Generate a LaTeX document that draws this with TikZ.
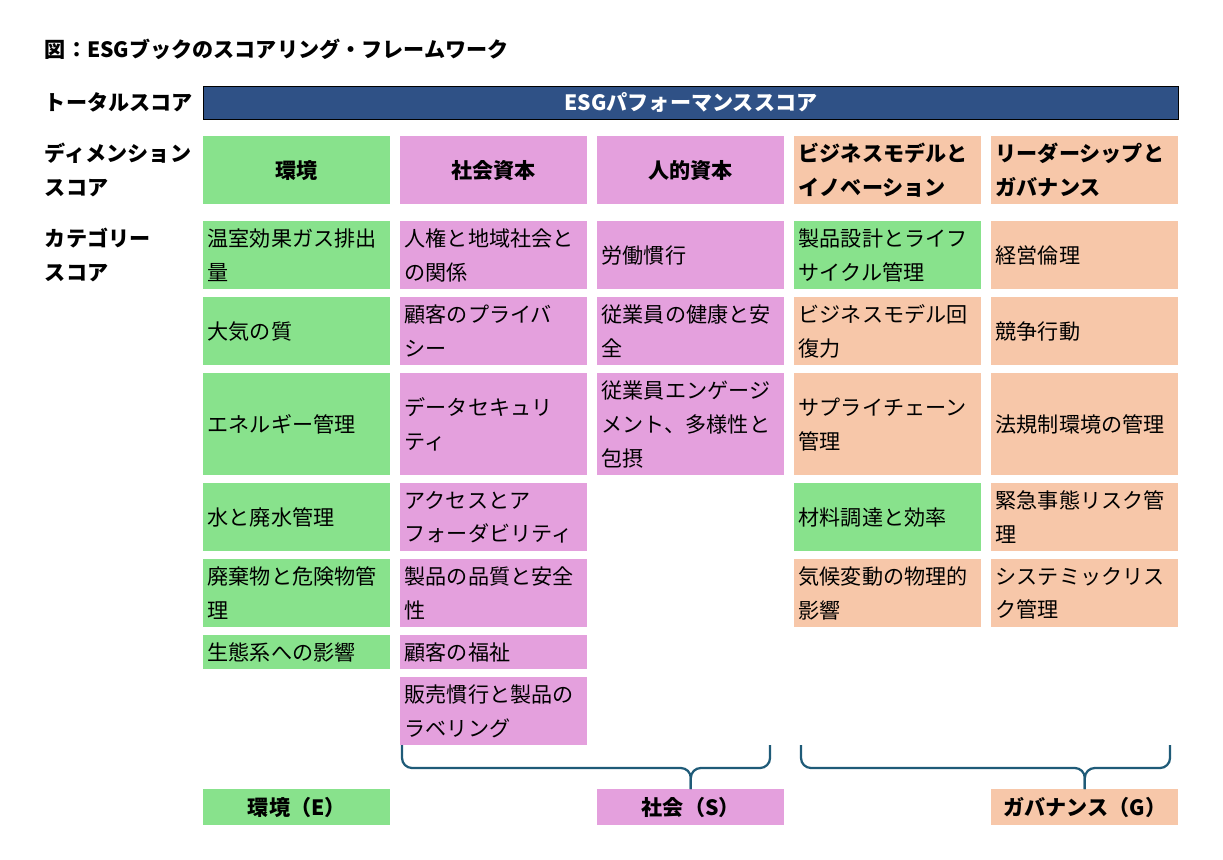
\documentclass[tikz,border=0pt]{standalone}
\usepackage{fontspec}
\setmainfont{Noto Sans CJK JP}
\definecolor{envgreen}{HTML}{88E28C}
\definecolor{socpink}{HTML}{E4A0DD}
\definecolor{govorange}{HTML}{F7C7A9}
\definecolor{totalnavy}{HTML}{2F5186}
\definecolor{bracecol}{HTML}{1F5B78}
\tikzset{
  cell/.style={anchor=north west, minimum width=4.675cm, text width=4.45cm,
    inner xsep=0.11cm, inner ysep=0pt, align=left, minimum height=1.7cm,
    font=\fontsize{15}{24}\selectfont},
  head/.style={cell, align=center, font=\bfseries\fontsize{15}{24}\selectfont},
  side/.style={anchor=west, align=left, font=\bfseries\fontsize{15}{24}\selectfont},
  brace/.style={draw=bracecol, line width=1.6pt, rounded corners=0.25cm},
}
\begin{document}
\begin{tikzpicture}[x=0.025cm, y=-0.025cm]
	\useasboundingbox (0,0) rectangle (1223,860);

	%%% Title and row labels
	\node[side] (title) at (40,49) {図：ESGブックのスコアリング・フレームワーク};
	\node[side] (lbl_total) at (40,102) {トータルスコア};
	\node[side] (lbl_dim) at (40,170) {ディメンション\\スコア};
	\node[side] (lbl_cat) at (40,255) {カテゴリー\\スコア};

	%%% Total score
	\node[draw=black, fill=totalnavy, text=white, anchor=north west, minimum width=24.375cm,
	  minimum height=0.825cm, font=\bfseries\fontsize{15}{24}\selectfont] (total) at (203,86) {ESGパフォーマンススコア};

	%%% Dimension scores
	\node[head, fill=envgreen] (dim_env) at (203,136) {環境};
	\node[head, fill=socpink] (dim_soc) at (400,136) {社会資本};
	\node[head, fill=socpink] (dim_hum) at (597,136) {人的資本};
	\node[head, fill=govorange, align=left] (dim_bus) at (794,136) {ビジネスモデルと\\イノベーション};
	\node[head, fill=govorange, align=left] (dim_gov) at (991,136) {リーダーシップと\\ガバナンス};

	%%% Environment
	\node[cell, fill=envgreen] (env1) at (203,221) {温室効果ガス排出\\量};
	\node[cell, fill=envgreen] (env2) at (203,297) {大気の質};
	\node[cell, fill=envgreen, minimum height=2.55cm] (env3) at (203,373) {エネルギー管理};
	\node[cell, fill=envgreen] (env4) at (203,483) {水と廃水管理};
	\node[cell, fill=envgreen] (env5) at (203,559) {廃棄物と危険物管\\理};
	\node[cell, fill=envgreen, minimum height=0.85cm] (env6) at (203,635) {生態系への影響};

	%%% Social capital
	\node[cell, fill=socpink] (soc1) at (400,221) {人権と地域社会と\\の関係};
	\node[cell, fill=socpink] (soc2) at (400,297) {顧客のプライバ\\シー};
	\node[cell, fill=socpink, minimum height=2.55cm] (soc3) at (400,373) {データセキュリ\\ティ};
	\node[cell, fill=socpink] (soc4) at (400,483) {アクセスとア\\フォーダビリティ};
	\node[cell, fill=socpink] (soc5) at (400,559) {製品の品質と安全\\性};
	\node[cell, fill=socpink, minimum height=0.85cm] (soc6) at (400,635) {顧客の福祉};
	\node[cell, fill=socpink] (soc7) at (400,677) {販売慣行と製品の\\ラベリング};

	%%% Human capital
	\node[cell, fill=socpink] (hum1) at (597,221) {労働慣行};
	\node[cell, fill=socpink] (hum2) at (597,297) {従業員の健康と安\\全};
	\node[cell, fill=socpink, minimum height=2.55cm] (hum3) at (597,373) {従業員エンゲージ\\メント、多様性と\\包摂};

	%%% Business model
	\node[cell, fill=envgreen] (bus1) at (794,221) {製品設計とライフ\\サイクル管理};
	\node[cell, fill=govorange] (bus2) at (794,297) {ビジネスモデル回\\復力};
	\node[cell, fill=govorange, minimum height=2.55cm] (bus3) at (794,373) {サプライチェーン\\管理};
	\node[cell, fill=envgreen] (bus4) at (794,483) {材料調達と効率};
	\node[cell, fill=govorange] (bus5) at (794,559) {気候変動の物理的\\影響};

	%%% Governance
	\node[cell, fill=govorange] (gov1) at (991,221) {経営倫理};
	\node[cell, fill=govorange] (gov2) at (991,297) {競争行動};
	\node[cell, fill=govorange, minimum height=2.55cm] (gov3) at (991,373) {法規制環境の管理};
	\node[cell, fill=govorange] (gov4) at (991,483) {緊急事態リスク管\\理};
	\node[cell, fill=govorange] (gov5) at (991,559) {システミックリス\\ク管理};

	%%% E / S / G
	\node[head, fill=envgreen, minimum height=0.9cm] (sumE) at (203,789) {環境（E）};
	\node[head, fill=socpink, minimum height=0.9cm] (sumS) at (597,789) {社会（S）};
	\node[head, fill=govorange, minimum height=0.9cm] (sumG) at (991,789) {ガバナンス（G）};

	%%% Braces
	\coordinate (bS_l) at (402,745);
	\coordinate (bS_r) at (770,745);
	\coordinate (bG_l) at (801,745);
	\coordinate (bG_r) at (1170,745);
	\draw[brace] (bS_l) |- (sumS.north |- 0,768) -- (sumS.north);
	\draw[brace] (bS_r) |- (sumS.north |- 0,768) -- (sumS.north);
	\draw[brace] (bG_l) |- (sumG.north |- 0,768) -- (sumG.north);
	\draw[brace] (bG_r) |- (sumG.north |- 0,768) -- (sumG.north);

\end{tikzpicture}
\end{document}
